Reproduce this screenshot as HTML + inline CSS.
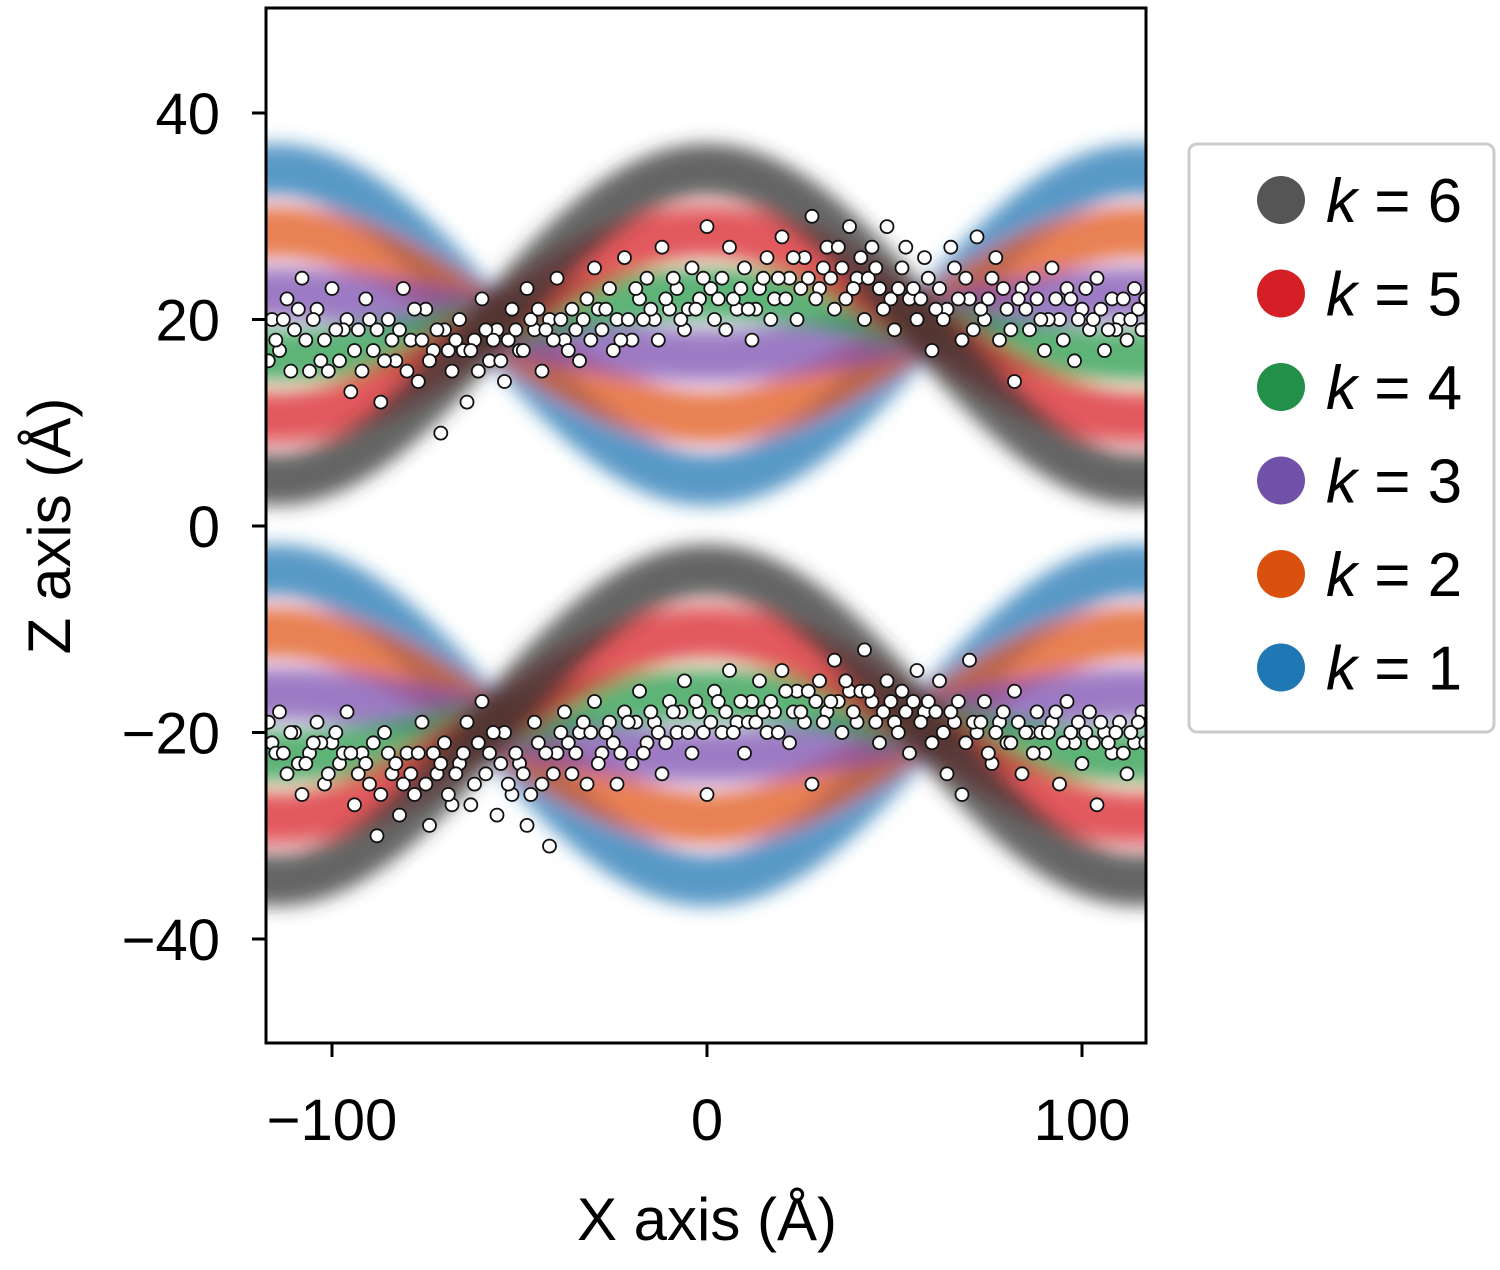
<!DOCTYPE html>
<html><head><meta charset="utf-8">
<style>
html,body{margin:0;padding:0;background:#fff;}
body{width:1500px;height:1265px;overflow:hidden;font-family:"Liberation Sans",Arial,sans-serif;}
</style></head>
<body>
<svg id="chart" width="1500" height="1265" xmlns="http://www.w3.org/2000/svg">
<defs>
<clipPath id="plotclip"><rect x="266" y="8" width="880" height="1035"/></clipPath>
<filter id="blur" x="-10%" y="-30%" width="120%" height="160%"><feGaussianBlur stdDeviation="9"/></filter>
</defs>
<g id="bands" clip-path="url(#plotclip)"></g>
<g id="points" clip-path="url(#plotclip)"></g>
<rect x="266" y="8" width="880" height="1035" fill="none" stroke="#000" stroke-width="3"/>
<g id="axes" font-size="58" fill="#000"></g>
<text x="707" y="1240" text-anchor="middle" font-size="60">X axis (Å)</text>
<text transform="translate(70,526) rotate(-90)" text-anchor="middle" font-size="60">Z axis (Å)</text>
<g id="legend">
<rect x="1189" y="144" width="305" height="588" rx="8" fill="#fff" stroke="#ccc" stroke-width="3"/>
</g>
</svg>
<script>
const ticksX = [-100, 0, 100];
const ticksZ = [40, 20, 0, -20, -40];
const bandK = [1, 2, 3, 4, 5, 6];
const bandAmp = [-15, -9, -3, 3, 9, 15];
const bandColor = ["#1f77b4", "#e0561a", "#7b4fb0", "#2a9a4a", "#d8212a", "#333333"];
const legendColor = ["#1f77b4", "#d9500f", "#7252a8", "#23904a", "#d41f26", "#555555"];
const centers = [19.5, -19.3];
const period = 230;
const upperPts = [[-116,20],[-114,17],[-112,22],[-110,19],[-108,24],[-106,15],[-104,21],[-102,18],[-100,23],[-98,16],[-96,20],[-95,13],[-93,19],[-91,22],[-89,17],[-87,12],[-85,20],[-83,16],[-81,23],[-79,18],[-77,14],[-75,21],[-73,17],[-71,9],[-70,19],[-68,15],[-66,20],[-64,12],[-62,18],[-60,22],[-58,16],[-56,19],[-54,14],[-52,21],[-50,17],[-48,23],[-46,19],[-44,15],[-42,20],[-40,24],[-38,18],[-36,21],[-34,16],[-32,22],[-30,25],[-28,19],[-26,23],[-24,20],[-22,26],[-20,18],[-18,22],[-16,24],[-14,20],[-12,27],[-10,21],[-8,23],[-6,19],[-4,25],[-2,22],[0,29],[2,20],[4,24],[6,27],[8,21],[10,25],[12,18],[14,23],[16,26],[18,22],[20,28],[22,24],[24,20],[26,26],[28,30],[30,23],[32,27],[34,21],[36,25],[38,29],[40,24],[42,20],[44,27],[46,23],[48,29],[50,19],[52,25],[54,22],[56,20],[58,26],[60,17],[62,23],[64,21],[66,25],[68,18],[70,22],[72,28],[74,20],[76,24],[78,18],[80,21],[82,14],[84,23],[86,19],[88,22],[90,17],[92,25],[94,20],[96,23],[98,16],[100,21],[102,19],[104,24],[106,17],[108,22],[110,20],[112,18],[114,23],[116,19],
[-115,18],[-109,21],[-103,16],[-97,19],[-90,20],[-84,18],[-78,21],[-72,19],[-65,17],[-59,19],[-53,18],[-47,20],[-41,18],[-35,19],[-29,21],[-23,18],[-17,20],[-11,22],[-5,21],[1,23],[7,22],[13,21],[19,24],[25,23],[31,25],[37,22],[43,24],[49,22],[55,23],[61,21],[67,22],[73,21],[79,23],[85,21],[91,20],[97,22],[103,20],[109,19],[115,21],
[-117,16],[-113,20],[-111,15],[-107,18],[-105,20],[-101,15],[-99,19],[-94,17],[-92,15],[-88,19],[-86,16],[-82,19],[-80,15],[-76,18],[-74,16],[-69,17],[-67,18],[-63,17],[-61,15],[-57,18],[-55,16],[-51,19],[-49,17],[-45,21],[-43,19],[-39,20],[-37,17],[-33,20],[-31,18],[-27,21],[-25,17],[-21,20],[-19,23],[-15,21],[-13,18],[-9,24],[-7,20],[-3,21],[-1,24],[3,22],[5,19],[9,23],[11,21],[15,24],[17,20],[21,22],[23,26],[27,24],[29,22],[33,24],[35,27],[39,23],[41,26],[45,25],[47,21],[51,23],[53,27],[57,22],[59,24],[63,20],[65,27],[69,24],[71,19],[75,22],[77,26],[81,19],[83,22],[87,24],[89,20],[93,22],[95,18],[99,20],[101,23],[105,21],[107,19],[111,22],[113,20],[117,22]];
const lowerPts = [[-116,-21],[-114,-18],[-112,-24],[-110,-20],[-108,-26],[-106,-22],[-104,-19],[-102,-25],[-100,-21],[-98,-23],[-96,-18],[-94,-27],[-92,-22],[-90,-25],[-88,-30],[-86,-20],[-84,-24],[-82,-28],[-80,-22],[-78,-26],[-76,-19],[-74,-29],[-72,-24],[-70,-21],[-68,-27],[-66,-23],[-64,-19],[-62,-25],[-60,-17],[-58,-22],[-56,-28],[-54,-20],[-52,-26],[-50,-23],[-48,-29],[-46,-19],[-44,-25],[-42,-31],[-40,-22],[-38,-18],[-36,-24],[-34,-20],[-32,-25],[-30,-17],[-28,-22],[-26,-19],[-24,-25],[-22,-18],[-20,-23],[-18,-16],[-16,-21],[-14,-19],[-12,-24],[-10,-17],[-8,-20],[-6,-15],[-4,-22],[-2,-18],[0,-26],[2,-16],[4,-20],[6,-14],[8,-19],[10,-22],[12,-17],[14,-15],[16,-20],[18,-18],[20,-14],[22,-21],[24,-16],[26,-19],[28,-25],[30,-15],[32,-18],[34,-13],[36,-20],[38,-16],[40,-19],[42,-12],[44,-17],[46,-21],[48,-15],[50,-19],[52,-16],[54,-22],[56,-14],[58,-18],[60,-21],[62,-15],[64,-24],[66,-19],[68,-26],[70,-13],[72,-20],[74,-17],[76,-23],[78,-19],[80,-21],[82,-16],[84,-24],[86,-20],[88,-18],[90,-22],[92,-19],[94,-25],[96,-17],[98,-21],[100,-23],[102,-18],[104,-27],[106,-20],[108,-22],[110,-19],[112,-24],[114,-21],[116,-18],
[-115,-22],[-109,-23],[-103,-21],[-97,-22],[-91,-23],[-85,-22],[-79,-24],[-73,-22],[-67,-24],[-61,-21],[-55,-23],[-49,-24],[-43,-22],[-37,-21],[-31,-20],[-25,-21],[-19,-19],[-13,-20],[-7,-18],[-1,-20],[5,-18],[11,-19],[17,-17],[23,-18],[29,-17],[35,-17],[41,-16],[47,-18],[53,-18],[59,-17],[65,-18],[71,-19],[77,-20],[83,-19],[89,-20],[95,-21],[101,-20],[107,-21],[113,-20],
[-117,-19],[-113,-22],[-111,-20],[-107,-23],[-105,-21],[-101,-24],[-99,-20],[-95,-22],[-93,-24],[-89,-21],[-87,-26],[-83,-23],[-81,-25],[-77,-22],[-75,-25],[-71,-23],[-69,-26],[-65,-22],[-63,-27],[-59,-24],[-57,-20],[-53,-25],[-51,-22],[-47,-26],[-45,-21],[-41,-24],[-39,-20],[-35,-22],[-33,-19],[-29,-23],[-27,-20],[-23,-22],[-21,-19],[-17,-22],[-15,-18],[-11,-21],[-9,-18],[-5,-20],[-3,-17],[1,-19],[3,-17],[7,-20],[9,-17],[13,-19],[15,-18],[19,-20],[21,-16],[25,-18],[27,-16],[31,-19],[33,-17],[37,-15],[39,-18],[43,-16],[45,-19],[49,-17],[51,-20],[55,-17],[57,-19],[61,-18],[63,-20],[67,-17],[69,-21],[73,-19],[75,-22],[79,-18],[81,-21],[85,-20],[87,-22],[91,-20],[93,-18],[97,-20],[99,-19],[103,-21],[105,-19],[109,-20],[111,-22],[115,-19],[117,-21]];

const NS = "http://www.w3.org/2000/svg";
const xS = v => 707 + v * 3.75;
const zS = v => 526 - v * 10.325;

// bands
const bands = document.getElementById('bands');
const bg = document.createElementNS(NS, 'g');
bg.setAttribute('filter', 'url(#blur)');
bands.appendChild(bg);
centers.forEach((c, ci) => {
  bandK.forEach((k, i) => {
    let d = '';
    for (let x = -125; x <= 125; x += 2) {
      const z = c + bandAmp[i] * Math.cos(2 * Math.PI * x / period);
      d += (d ? 'L' : 'M') + xS(x).toFixed(1) + ',' + zS(z).toFixed(1);
    }
    const p = document.createElementNS(NS, 'path');
    p.setAttribute('d', d);
    p.setAttribute('fill', 'none');
    p.setAttribute('stroke', bandColor[i]);
    p.setAttribute('stroke-width', '52');
    p.setAttribute('stroke-opacity', '0.75');
    
    
    bg.appendChild(p);
  });
});

// points
const pts = document.getElementById('points');
[upperPts, lowerPts].forEach((arr, ai) => {
  arr.forEach(pt => {
    const c = document.createElementNS(NS, 'circle');
    c.setAttribute('cx', xS(pt[0]).toFixed(1));
    c.setAttribute('cy', zS(pt[1]).toFixed(1));
    c.setAttribute('r', '6.5');
    c.setAttribute('fill', '#fff');
    c.setAttribute('stroke', '#111');
    c.setAttribute('stroke-width', '1.8');
    
    
    pts.appendChild(c);
  });
});

// axes
const axes = document.getElementById('axes');
ticksX.forEach(t => {
  const l = document.createElementNS(NS, 'line');
  l.setAttribute('x1', xS(t)); l.setAttribute('x2', xS(t));
  l.setAttribute('y1', 1043); l.setAttribute('y2', 1057);
  l.setAttribute('stroke', '#000'); l.setAttribute('stroke-width', '3');
  
  
  axes.appendChild(l);
  const tx = document.createElementNS(NS, 'text');
  tx.setAttribute('x', xS(t)); tx.setAttribute('y', 1140);
  tx.setAttribute('text-anchor', 'middle');
  tx.textContent = t < 0 ? '\u2212' + (-t) : String(t);
  
  
  axes.appendChild(tx);
});
ticksZ.forEach(t => {
  const l = document.createElementNS(NS, 'line');
  l.setAttribute('x1', 252); l.setAttribute('x2', 266);
  l.setAttribute('y1', zS(t)); l.setAttribute('y2', zS(t));
  l.setAttribute('stroke', '#000'); l.setAttribute('stroke-width', '3');
  
  
  axes.appendChild(l);
  const tx = document.createElementNS(NS, 'text');
  tx.setAttribute('x', 220); tx.setAttribute('y', zS(t) + 21);
  tx.setAttribute('text-anchor', 'end');
  tx.textContent = t < 0 ? '\u2212' + (-t) : String(t);
  
  
  axes.appendChild(tx);
});

// legend
const lg = document.getElementById('legend');
for (let j = 0; j < 6; j++) {
  const i = 5 - j;
  const y = 200 + j * 93.5;
  const c = document.createElementNS(NS, 'circle');
  c.setAttribute('cx', 1281); c.setAttribute('cy', y); c.setAttribute('r', 24);
  c.setAttribute('fill', legendColor[i]);
  
  
  lg.appendChild(c);
  const t = document.createElementNS(NS, 'text');
  t.setAttribute('x', 1326); t.setAttribute('y', y + 22);
  t.setAttribute('font-size', '62');
  t.innerHTML = '<tspan font-style="italic">k</tspan> = ' + bandK[i];
  
  
  lg.appendChild(t);
}
</script>
</body></html>
